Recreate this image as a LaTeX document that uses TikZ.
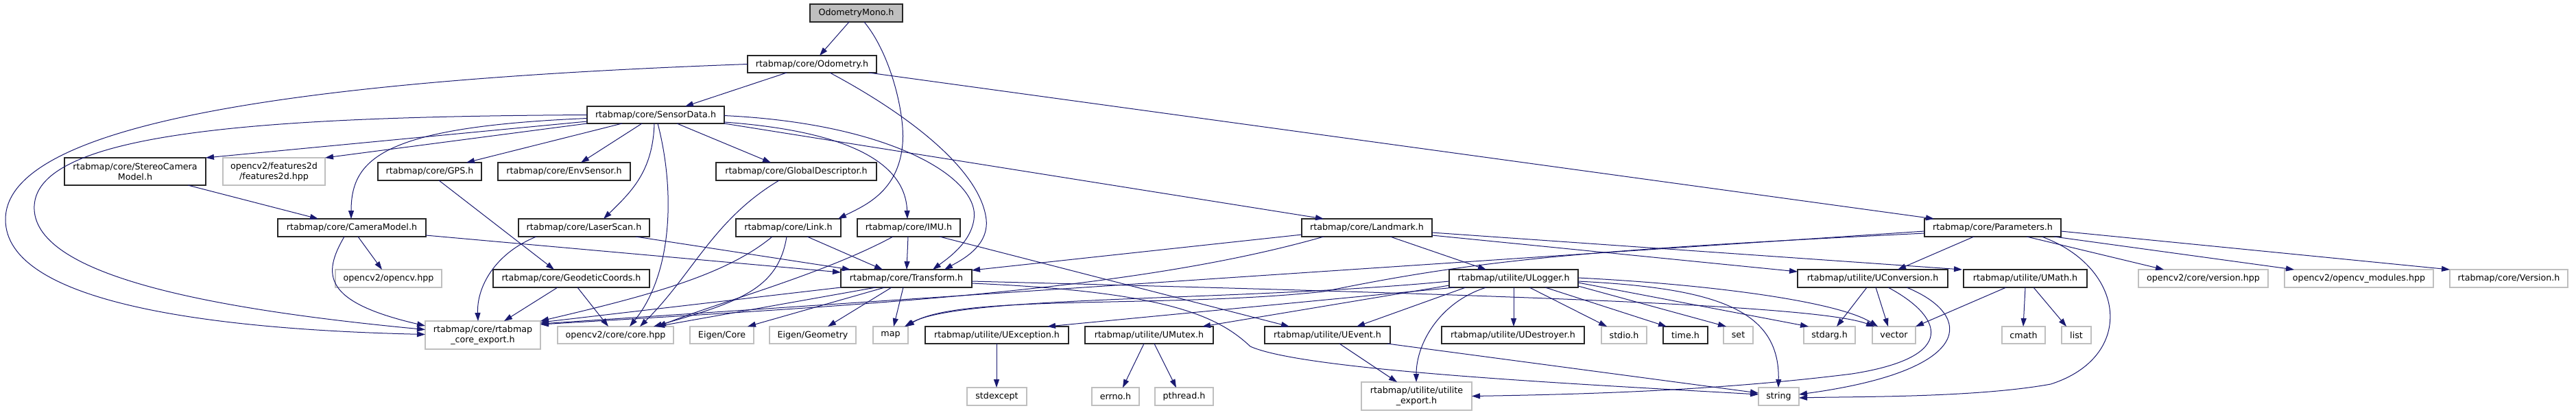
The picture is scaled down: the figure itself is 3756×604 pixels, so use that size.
\documentclass[tikz,border=0pt]{standalone}
\usepackage{fontspec}
\setmainfont{DejaVu Sans}
\usetikzlibrary{arrows.meta,calc}
\definecolor{edgec}{HTML}{191970}
\definecolor{lgray}{HTML}{BFBFBF}
\newcommand{\dxbox}[7]{%
 \pgfmathsetmacro{\dxW}{(#4-#2)*0.25}%
 \pgfmathsetmacro{\dxH}{(#5-#3)*0.25}%
 \pgfmathsetmacro{\dxX}{(#2+#4)/2}%
 \pgfmathsetmacro{\dxY}{(#3+#5)/2}%
 \node[#6, minimum width=\dxW pt, minimum height=\dxH pt] (#1) at (\dxX,\dxY) {#7};}
\begin{document}
\begin{tikzpicture}[x=0.25pt,y=-0.25pt,
 hb/.style={draw=black!85, line width=0.3pt, inner sep=0pt, outer sep=0pt,
   font=\fontsize{3.17}{3.75}\selectfont, align=center, fill=white},
 gb/.style={hb, draw=lgray},
 rb/.style={hb, fill=lgray},
 e/.style={draw=edgec, line width=0.25pt, -{Triangle[length=3pt,width=2pt]}}]
\useasboundingbox[fill=white] (0,0) rectangle (3756,604);
% nodes
\dxbox{mono}{1181}{6}{1316}{32}{rb}{OdometryMono.h}
\dxbox{odom}{1090}{81}{1278}{106}{hb}{rtabmap/core/Odometry.h}
\dxbox{sd}{856}{155}{1056}{180}{hb}{rtabmap/core/SensorData.h}
\dxbox{stereo}{94}{230}{300}{270}{hb}{rtabmap/core/StereoCamera\\Model.h}
\dxbox{f2d}{325}{230}{474}{270}{gb}{opencv2/features2d\\/features2d.hpp}
\dxbox{gps}{551}{237}{702}{263}{hb}{rtabmap/core/GPS.h}
\dxbox{env}{726}{237}{919}{263}{hb}{rtabmap/core/EnvSensor.h}
\dxbox{gd}{1044}{237}{1278}{263}{hb}{rtabmap/core/GlobalDescriptor.h}
\dxbox{cam}{405}{319}{621}{345}{hb}{rtabmap/core/CameraModel.h}
\dxbox{laser}{756}{319}{947}{345}{hb}{rtabmap/core/LaserScan.h}
\dxbox{link}{1073}{319}{1226}{345}{hb}{rtabmap/core/Link.h}
\dxbox{imu}{1250}{319}{1400}{345}{hb}{rtabmap/core/IMU.h}
\dxbox{landmark}{1898}{319}{2088}{345}{hb}{rtabmap/core/Landmark.h}
\dxbox{params}{2806}{319}{3005}{345}{hb}{rtabmap/core/Parameters.h}
\dxbox{ocv}{489}{393}{644}{419}{gb}{opencv2/opencv.hpp}
\dxbox{geo}{719}{393}{947}{419}{hb}{rtabmap/core/GeodeticCoords.h}
\dxbox{tf}{1226}{393}{1417}{419}{hb}{rtabmap/core/Transform.h}
\dxbox{ulog}{2113}{393}{2301}{419}{hb}{rtabmap/utilite/ULogger.h}
\dxbox{uconv}{2621}{393}{2840}{419}{hb}{rtabmap/utilite/UConversion.h}
\dxbox{umath}{2863}{393}{3043}{419}{hb}{rtabmap/utilite/UMath.h}
\dxbox{ver}{3118}{393}{3307}{419}{gb}{opencv2/core/version.hpp}
\dxbox{mods}{3331}{393}{3548}{419}{gb}{opencv2/opencv\_modules.hpp}
\dxbox{rver}{3572}{393}{3744}{419}{gb}{rtabmap/core/Version.h}
\dxbox{cexp}{620}{468}{788}{509}{gb}{rtabmap/core/rtabmap\\\_core\_export.h}
\dxbox{core}{813}{476}{982}{501}{gb}{opencv2/core/core.hpp}
\dxbox{ecore}{1006}{476}{1099}{501}{gb}{Eigen/Core}
\dxbox{egeo}{1122}{476}{1248}{501}{gb}{Eigen/Geometry}
\dxbox{map}{1273}{476}{1324}{501}{gb}{map}
\dxbox{uexc}{1349}{476}{1558}{501}{hb}{rtabmap/utilite/UException.h}
\dxbox{umutex}{1582}{476}{1769}{501}{hb}{rtabmap/utilite/UMutex.h}
\dxbox{uevent}{1844}{476}{2027}{501}{hb}{rtabmap/utilite/UEvent.h}
\dxbox{udest}{2102}{476}{2310}{501}{hb}{rtabmap/utilite/UDestroyer.h}
\dxbox{stdio}{2335}{476}{2401}{501}{gb}{stdio.h}
\dxbox{time}{2425}{476}{2490}{501}{hb}{time.h}
\dxbox{set}{2513}{476}{2556}{501}{gb}{set}
\dxbox{stdarg}{2630}{476}{2705}{501}{gb}{stdarg.h}
\dxbox{vector}{2730}{476}{2793}{501}{gb}{vector}
\dxbox{cmath}{2919}{476}{2982}{501}{gb}{cmath}
\dxbox{list}{3006}{476}{3049}{501}{gb}{list}
\dxbox{stdexcept}{1410}{565}{1497}{591}{gb}{stdexcept}
\dxbox{errno}{1592}{565}{1661}{591}{gb}{errno.h}
\dxbox{pthread}{1684}{565}{1769}{591}{gb}{pthread.h}
\dxbox{uexp}{1985}{557}{2146}{598}{gb}{rtabmap/utilite/utilite\\\_export.h}
\dxbox{string}{2564}{565}{2623}{591}{gb}{string}
% edges: OdometryMono
\draw[e] ($(mono.south west)+(57,0)$) -- ($(odom.north west)+(105,0)$);
\draw[e] ($(mono.south west)+(79,0)$) .. controls (1300,80) and (1320,170) .. (1316,210) .. controls (1310,280) and (1260,300) .. ($(link.north east)+(-4,0)$);
% Odometry
\draw[e] (odom.west) .. controls (500,115) and (8,170) .. (8,320) .. controls (8,440) and (300,480) .. ($(cexp.west)+(0,-1)$);
\draw[e] ($(odom.south west)+(57,0)$) -- ($(sd.north west)+(143,0)$);
\draw[e] ($(odom.south west)+(120,0)$) .. controls (1330,170) and (1430,250) .. (1438,320) .. controls (1442,360) and (1400,380) .. ($(tf.north west)+(151,0)$);
\draw[e] ($(odom.south east)+(-11,0)$) -- ($(params.north west)+(14,0)$);
% SensorData
\draw[e] (sd.west) .. controls (400,170) and (55,190) .. (50,300) .. controls (45,400) and (300,450) .. ($(cexp.west)+(0,-8)$);
\draw[e] ($(sd.south west)+(0,-3)$) -- (stereo.north east);
\draw[e] (sd.south west) -- (f2d.north east);
\draw[e] ($(sd.west)+(0,5)$) .. controls (560,185) and (512,230) .. ($(cam.north west)+(107,0)$);
\draw[e] ($(sd.south west)+(51,0)$) -- ($(gps.north west)+(129,0)$);
\draw[e] ($(sd.south west)+(80,0)$) -- ($(env.north west)+(121,0)$);
\draw[e] ($(sd.south west)+(98,0)$) .. controls (952,250) and (920,280) .. ($(laser.north west)+(124,0)$);
\draw[e] ($(sd.south west)+(103,0)$) .. controls (985,280) and (980,400) .. ($(core.north west)+(105,0)$);
\draw[e] ($(sd.south west)+(131,0)$) -- ($(gd.north west)+(80,0)$);
\draw[e] ($(sd.east)+(0,1)$) .. controls (1300,180) and (1430,260) .. (1420,320) .. controls (1415,355) and (1380,378) .. ($(tf.north west)+(134,0)$);
\draw[e] ($(sd.south east)+(0,-2)$) .. controls (1220,190) and (1320,230) .. ($(imu.north west)+(73,0)$);
\draw[e] (sd.south east) -- ($(landmark.north west)+(32,0)$);
% second level
\draw[e] ($(gd.south west)+(92,0)$) .. controls (1040,320) and (1010,400) .. ($(core.north west)+(120,0)$);
\draw[e] ($(stereo.south west)+(180,0)$) -- ($(cam.north west)+(59,0)$);
\draw[e] ($(gps.south west)+(89,0)$) -- ($(geo.north west)+(89,0)$);
\draw[e] ($(cam.south west)+(97,0)$) .. controls (470,400) and (470,440) .. ($(cexp.north west)+(0,7)$);
\draw[e] ($(cam.south west)+(117,0)$) -- ($(ocv.north west)+(68,0)$);
\draw[e] ($(cam.south east)+(0,-2)$) -- ($(tf.north west)+(0,4)$);
\draw[e] ($(laser.south west)+(26,0)$) .. controls (720,370) and (695,420) .. ($(cexp.north west)+(77,0)$);
\draw[e] ($(laser.south east)+(-20,0)$) -- ($(tf.north west)+(14,0)$);
\draw[e] ($(geo.south west)+(94,0)$) -- ($(cexp.north west)+(115,0)$);
\draw[e] ($(geo.south west)+(123,0)$) -- ($(core.north west)+(74,0)$);
\draw[e] ($(link.south west)+(53,0)$) .. controls (1060,400) and (950,430) .. (cexp.north east);
\draw[e] ($(link.south west)+(74,0)$) .. controls (1135,420) and (1080,440) .. ($(core.north west)+(140,0)$);
\draw[e] ($(link.south west)+(104,0)$) -- ($(tf.north west)+(61,0)$);
\draw[e] ($(imu.south west)+(52,0)$) .. controls (1200,400) and (1050,440) .. ($(core.north west)+(146,0)$);
\draw[e] ($(imu.south west)+(74,0)$) -- ($(tf.north west)+(96,0)$);
\draw[e] ($(imu.south west)+(120,0)$) -- ($(uevent.north west)+(36,0)$);
% Landmark
\draw[e] ($(landmark.south west)+(0,-3)$) -- ($(tf.north east)+(0,1)$);
\draw[e] ($(landmark.south west)+(32,0)$) .. controls (1650,425) and (1250,445) .. ($(cexp.north east)+(0,5)$);
\draw[e] ($(landmark.south west)+(129,0)$) -- ($(ulog.north west)+(54,0)$);
\draw[e] ($(landmark.south east)+(0,-2)$) -- ($(uconv.north west)+(0,3)$);
\draw[e] ($(landmark.south east)+(0,-6)$) -- ($(umath.north west)+(-2,0)$);
% Transform
\draw[e] (tf.south west) -- ($(cexp.north east)+(0,2)$);
\draw[e] ($(tf.south west)+(51,0)$) -- ($(core.north east)+(-25,0)$);
\draw[e] ($(tf.south west)+(64,0)$) -- ($(ecore.north west)+(84,0)$);
\draw[e] ($(tf.south west)+(74,0)$) -- ($(egeo.north west)+(85,0)$);
\draw[e] ($(tf.south west)+(91,0)$) -- ($(map.north west)+(30,0)$);
\draw[e] ($(tf.south east)+(0,-9)$) .. controls (2200,430) and (2650,445) .. ($(vector.north west)+(3,0)$);
\draw[e] ($(tf.south east)+(0,-6)$) .. controls (1700,425) and (1775,460) .. (1823,505) .. controls (1900,540) and (2300,560) .. ($(string.west)+(0,-3)$);
% ULogger
\draw[e] ($(ulog.south west)+(54,0)$) .. controls (2100,440) and (2065,500) .. ($(uexp.north west)+(80,0)$);
\draw[e] ($(ulog.south west)+(24,0)$) -- ($(uevent.north west)+(134,0)$);
\draw[e] ($(ulog.south west)+(8,0)$) -- ($(uexc.north west)+(178,0)$);
\draw[e] ($(ulog.south west)+(0,-3)$) -- ($(umutex.north east)+(-16,0)$);
\draw[e] ($(ulog.west)+(0,4)$) .. controls (1800,440) and (1400,430) .. ($(map.north east)+(-5,0)$);
\draw[e] ($(ulog.south west)+(94,0)$) -- ($(udest.north west)+(105,0)$);
\draw[e] ($(ulog.south west)+(117,0)$) -- ($(stdio.north west)+(8,0)$);
\draw[e] ($(ulog.south west)+(140,0)$) -- ($(time.north west)+(5,0)$);
\draw[e] ($(ulog.south east)+(0,-2)$) -- ($(set.north west)+(4,0)$);
\draw[e] ($(ulog.south east)+(0,-7)$) -- ($(stdarg.north west)+(7,0)$);
\draw[e] ($(ulog.east)+(0,4)$) .. controls (2500,420) and (2595,450) .. ($(string.north west)+(29,0)$);
\draw[e] ($(ulog.east)+(0,-1)$) .. controls (2500,415) and (2680,440) .. ($(vector.north west)+(8,0)$);
% utilite
\draw[e] ($(uevent.south west)+(109,0)$) -- ($(uexp.north west)+(52,0)$);
\draw[e] ($(uevent.south east)+(-4,0)$) -- ($(string.west)+(0,-5)$);
\draw[e] ($(uexc.south west)+(104,0)$) -- ($(stdexcept.north west)+(43,0)$);
\draw[e] ($(umutex.south west)+(86,0)$) -- ($(errno.north west)+(45,0)$);
\draw[e] ($(umutex.south west)+(101,0)$) -- ($(pthread.north west)+(31,0)$);
\draw[e] ($(uconv.south west)+(101,0)$) -- ($(stdarg.north west)+(48,0)$);
\draw[e] ($(uconv.south west)+(114,0)$) -- ($(vector.north west)+(23,0)$);
\draw[e] ($(uconv.south west)+(159,0)$) .. controls (2880,460) and (2880,540) .. ($(string.east)+(0,-3)$);
\draw[e] ($(uconv.south west)+(132,0)$) .. controls (2830,460) and (2860,520) .. (2700,545) .. controls (2500,570) and (2300,575) .. (uexp.east);
\draw[e] ($(umath.south west)+(62,0)$) -- (vector.north east);
\draw[e] ($(umath.south west)+(90,0)$) -- ($(cmath.north west)+(31,0)$);
\draw[e] ($(umath.south west)+(102,0)$) -- ($(list.north west)+(7,0)$);
% Parameters
\draw[e] ($(params.south west)+(72,0)$) -- ($(uconv.north west)+(146,0)$);
\draw[e] ($(params.south west)+(171,0)$) .. controls (3100,390) and (3115,520) .. (2990,560) .. controls (2880,580) and (2700,578) .. ($(string.east)+(0,2)$);
\draw[e] ($(params.south west)+(149,0)$) -- ($(ver.north west)+(37,0)$);
\draw[e] ($(params.south east)+(-10,0)$) -- ($(mods.north west)+(14,0)$);
\draw[e] ($(params.east)+(0,5)$) -- (rver.north west);
\draw[e] ($(params.west)+(0,5)$) -- ($(cexp.north east)+(0,4)$);
\draw[e] ($(params.west)+(0,8)$) .. controls (2300,365) and (2150,380) .. (1930,425) .. controls (1700,450) and (1400,428) .. ($(map.north east)+(-3,0)$);
\end{tikzpicture}
\end{document}
